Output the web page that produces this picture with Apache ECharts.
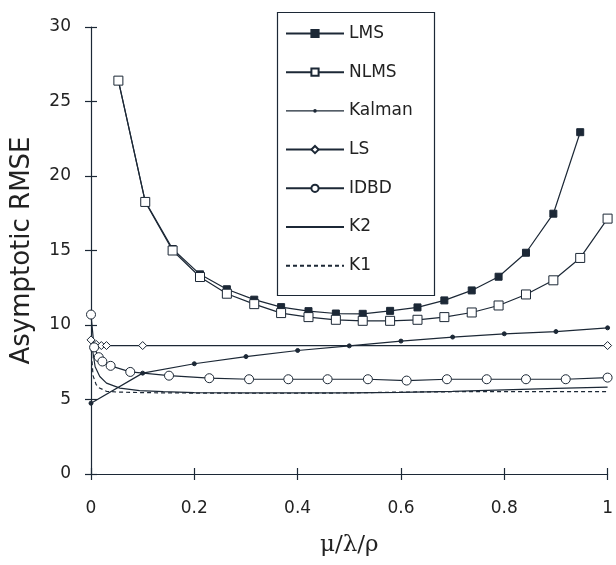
<!DOCTYPE html>
<html>
<head>
<meta charset="utf-8">
<script src="https://cdn.jsdelivr.net/npm/echarts@6/dist/echarts.min.js"></script>
<style>html,body{margin:0;padding:0;background:#fff}#c{width:616px;height:565px}</style>
</head>
<body>
<div id="c"></div>
<script>
var xTicks = [0, 0.2, 0.4, 0.6, 0.8, 1];
var yTicks = [0, 5, 10, 15, 20, 25, 30];

var lmsX = [0.053, 0.105, 0.158, 0.211, 0.263, 0.316, 0.368, 0.421, 0.474, 0.526, 0.579, 0.632, 0.684, 0.737, 0.789, 0.842, 0.895, 0.947];
var lmsY = [26.4, 18.3, 15.1, 13.4, 12.4, 11.7, 11.2, 10.93, 10.77, 10.75, 10.95, 11.18, 11.65, 12.32, 13.24, 14.85, 17.47, 22.94];

var nlmsX = [0.053, 0.105, 0.158, 0.211, 0.263, 0.316, 0.368, 0.421, 0.474, 0.526, 0.579, 0.632, 0.684, 0.737, 0.789, 0.842, 0.895, 0.947, 1.0];
var nlmsY = [26.4, 18.26, 15.0, 13.22, 12.1, 11.4, 10.8, 10.53, 10.35, 10.28, 10.28, 10.35, 10.53, 10.84, 11.31, 12.05, 13.0, 14.5, 17.14];

var kalmanX = [0, 0.1, 0.2, 0.3, 0.4, 0.5, 0.6, 0.7, 0.8, 0.9, 1.0];
var kalmanY = [4.75, 6.77, 7.4, 7.88, 8.29, 8.6, 8.92, 9.19, 9.41, 9.56, 9.81];

var lsX = [0, 0.01, 0.02, 0.03, 0.1, 1.0];
var lsY = [9.0, 8.7, 8.62, 8.62, 8.62, 8.62];

var idbdX = [0, 0.006, 0.015, 0.022, 0.038, 0.076, 0.151, 0.229, 0.306, 0.382, 0.458, 0.536, 0.611, 0.689, 0.766, 0.842, 0.919, 1.0];
var idbdY = [10.7, 8.5, 7.84, 7.55, 7.26, 6.85, 6.6, 6.43, 6.36, 6.36, 6.36, 6.36, 6.27, 6.36, 6.36, 6.36, 6.36, 6.47];

var k2X = [0, 0.008, 0.017, 0.03, 0.056, 0.094, 0.14, 0.2, 0.3, 0.4, 0.5, 0.6, 0.7, 0.8, 0.9, 1.0];
var k2Y = [9.0, 7.2, 6.54, 6.1, 5.76, 5.6, 5.53, 5.46, 5.45, 5.45, 5.45, 5.48, 5.55, 5.65, 5.74, 5.83];

var k1X = [0, 0.004, 0.01, 0.015, 0.03, 0.05, 0.1, 0.2, 0.3, 0.4, 0.5, 0.6, 0.7, 0.8, 0.9, 1.0];
var k1Y = [8.5, 6.6, 6.0, 5.8, 5.55, 5.5, 5.46, 5.43, 5.42, 5.42, 5.44, 5.5, 5.52, 5.53, 5.53, 5.53];

var names = ['LMS', 'NLMS', 'Kalman', 'LS', 'IDBD', 'K2', 'K1'];

function pairs(xs, ys) { return xs.map(function (x, i) { return [x, ys[i]]; }); }

var C = '#1c2836';
var F = '"DejaVu Sans", "Liberation Sans", Arial, sans-serif';

function mk(name, xs, ys, symbol, size, filled, dashed) {
  return {
    name: name, type: 'line', data: pairs(xs, ys),
    xAxisIndex: 0, yAxisIndex: 0,
    symbol: symbol || 'none', symbolSize: size || 0, showSymbol: !!symbol,
    lineStyle: { color: C, width: 1.2, type: dashed ? [4, 3] : 'solid' },
    itemStyle: { color: filled ? C : '#fff', borderColor: C, borderWidth: 1 },
    emphasis: { disabled: true }, animation: false, z: 3
  };
}

var kalmanIcon = 'path://M0,1.1L58,1.1L58,2.5L0,2.5Z M27.2,1.8A1.8,1.8,0,1,1,30.8,1.8A1.8,1.8,0,1,1,27.2,1.8Z';

var legendData = names.map(function (n) {
  if (n === 'Kalman') return { name: n, icon: kalmanIcon, itemStyle: { color: C, borderWidth: 0 } };
  if (n === 'K2' || n === 'K1') return { name: n, itemStyle: { opacity: 0 } };
  return { name: n };
});

var chart = echarts.init(document.getElementById('c'), null, { renderer: 'canvas' });

var commonX = { type: 'value', min: 0, max: 1, interval: 0.2, splitLine: { show: false } };
var commonY = { type: 'value', min: 0, max: 30, interval: 5, splitLine: { show: false } };

chart.setOption({
  animation: false,
  backgroundColor: '#fff',
  grid: { left: 91, right: 5, top: 27, bottom: 91, containLabel: false },
  xAxis: [
    Object.assign({}, commonX, {
      position: 'bottom',
      name: 'μ/λ/ρ', nameLocation: 'middle', nameGap: 60,
      nameTextStyle: { fontFamily: '"DejaVu Serif", "Liberation Serif", serif', fontSize: 23, color: '#222' },
      axisLine: { show: true, onZero: false, lineStyle: { color: C, width: 1.2 } },
      axisTick: { show: true, inside: false, length: 6, lineStyle: { color: C, width: 1.2 } },
      axisLabel: { show: true, margin: 26, fontFamily: F, fontSize: 17, color: '#222',
        formatter: function (v) { return String(v); } }
    }),
    Object.assign({}, commonX, {
      position: 'bottom',
      axisLine: { show: false, onZero: false },
      axisTick: { show: true, inside: true, length: 6, lineStyle: { color: C, width: 1.2 } },
      axisLabel: { show: false }
    })
  ],
  yAxis: [
    Object.assign({}, commonY, {
      position: 'left',
      name: 'Asymptotic RMSE', nameLocation: 'middle', nameGap: 56,
      nameTextStyle: { fontFamily: F, fontSize: 26, color: '#222' },
      axisLine: { show: true, onZero: false, lineStyle: { color: C, width: 1.2 } },
      axisTick: { show: true, inside: false, length: 6, lineStyle: { color: C, width: 1.2 } },
      axisLabel: { show: true, margin: 20, fontFamily: F, fontSize: 17, color: '#222' }
    }),
    Object.assign({}, commonY, {
      position: 'left',
      axisLine: { show: false, onZero: false },
      axisTick: { show: true, inside: true, length: 6, lineStyle: { color: C, width: 1.2 } },
      axisLabel: { show: false }
    })
  ],
  legend: {
    data: legendData,
    orient: 'vertical',
    left: 285, top: 25,
    itemWidth: 58, itemHeight: 9, itemGap: 21.7,
    padding: 0,
    textStyle: { fontFamily: F, fontSize: 17, color: '#222' },
    selectedMode: false
  },
  graphic: [{
    type: 'rect', left: 275, top: 10,
    shape: { width: 157, height: 283 },
    style: { fill: 'none', stroke: C, lineWidth: 1.2 }, z: 1
  }],
  series: [
    mk('LMS', lmsX, lmsY, 'rect', 7, true),
    mk('NLMS', nlmsX, nlmsY, 'rect', 9, false),
    mk('Kalman', kalmanX, kalmanY, 'circle', 4, true),
    mk('LS', lsX, lsY, 'diamond', 8, false),
    mk('IDBD', idbdX, idbdY, 'circle', 9, false),
    mk('K2', k2X, k2Y, null, 0, false, false),
    mk('K1', k1X, k1Y, null, 0, false, true)
  ]
});
</script>
</body>
</html>
